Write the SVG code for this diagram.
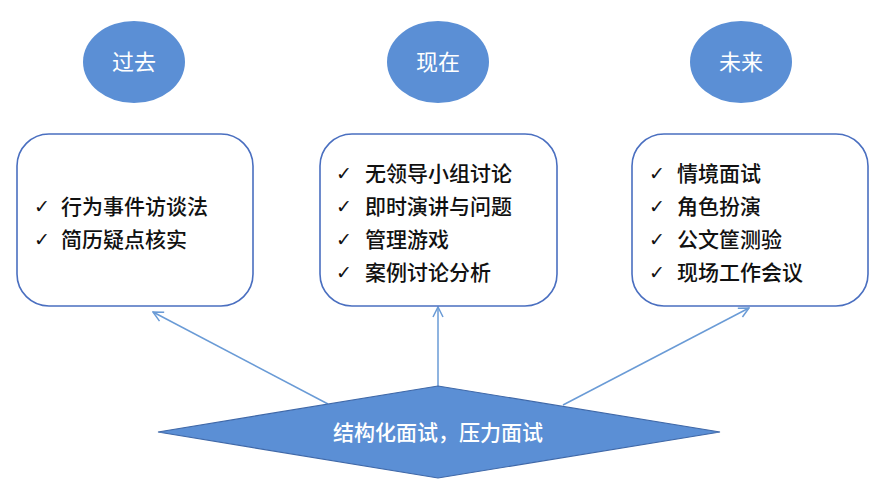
<svg xmlns="http://www.w3.org/2000/svg" width="885" height="500" viewBox="0 0 885 500">
<defs>
<style>
.ell{fill:#5B8FD5;}
.ellt{fill:#ffffff;font-family:"Noto Sans CJK SC","Liberation Sans",sans-serif;font-size:22px;text-anchor:middle;}
.box{fill:#ffffff;stroke:#4A6FC0;stroke-width:1.6;}
.item{fill:#111111;font-family:"Noto Sans CJK SC","Liberation Sans",sans-serif;font-size:21px;font-weight:500;}
.chk{fill:#111111;font-family:"DejaVu Sans",sans-serif;font-size:19px;font-weight:bold;}
.conn{stroke:#6A9BD6;stroke-width:1.5;fill:none;marker-end:url(#arr);}
.dia{fill:#5B8FD5;stroke:#3F68A8;stroke-width:1.2;}
.diat{fill:#ffffff;font-family:"Noto Sans CJK SC","Liberation Sans",sans-serif;font-size:21px;font-weight:500;text-anchor:middle;}
</style>
<marker id="arr" viewBox="0 0 12 12" refX="11" refY="6" markerWidth="12" markerHeight="12" markerUnits="userSpaceOnUse" orient="auto">
<path d="M1,1 L11,6 L1,11" fill="none" stroke="#6A9BD6" stroke-width="1.5"/>
</marker>
</defs>
<rect width="885" height="500" fill="#ffffff"/>

<g id="connectors">
<line class="conn" x1="328" y1="404" x2="153" y2="312"/>
<line class="conn" x1="438" y1="386" x2="438" y2="307"/>
<line class="conn" x1="563" y1="405" x2="749" y2="308"/>
</g>

<g id="past">
<ellipse class="ell" cx="134" cy="62" rx="51" ry="41"/>
<text class="ellt" x="134" y="70">过去</text>
</g>
<g id="present">
<ellipse class="ell" cx="438" cy="62" rx="51" ry="41"/>
<text class="ellt" x="438" y="70">现在</text>
</g>
<g id="future">
<ellipse class="ell" cx="741" cy="62" rx="51" ry="41"/>
<text class="ellt" x="741" y="70">未来</text>
</g>

<g id="past-box">
<rect class="box" x="17" y="134" width="236" height="172" rx="32"/>
<text class="chk" x="34" y="213">✓</text><text class="item" x="61" y="214">行为事件访谈法</text>
<text class="chk" x="34" y="246">✓</text><text class="item" x="61" y="247">简历疑点核实</text>
</g>
<g id="present-box">
<rect class="box" x="320" y="134" width="237" height="172" rx="32"/>
<text class="chk" x="336" y="180">✓</text><text class="item" x="365" y="181">无领导小组讨论</text>
<text class="chk" x="336" y="213">✓</text><text class="item" x="365" y="214">即时演讲与问题</text>
<text class="chk" x="336" y="246">✓</text><text class="item" x="365" y="247">管理游戏</text>
<text class="chk" x="336" y="279">✓</text><text class="item" x="365" y="280">案例讨论分析</text>
</g>
<g id="future-box">
<rect class="box" x="632" y="134" width="236" height="172" rx="32"/>
<text class="chk" x="649" y="180">✓</text><text class="item" x="677" y="181">情境面试</text>
<text class="chk" x="649" y="213">✓</text><text class="item" x="677" y="214">角色扮演</text>
<text class="chk" x="649" y="246">✓</text><text class="item" x="677" y="247">公文筐测验</text>
<text class="chk" x="649" y="279">✓</text><text class="item" x="677" y="280">现场工作会议</text>
</g>

<g id="interview">
<polygon class="dia" points="158,432 438,386 720,432 438,478"/>
<text class="diat" x="438" y="440">结构化面试，压力面试</text>
</g>
</svg>
